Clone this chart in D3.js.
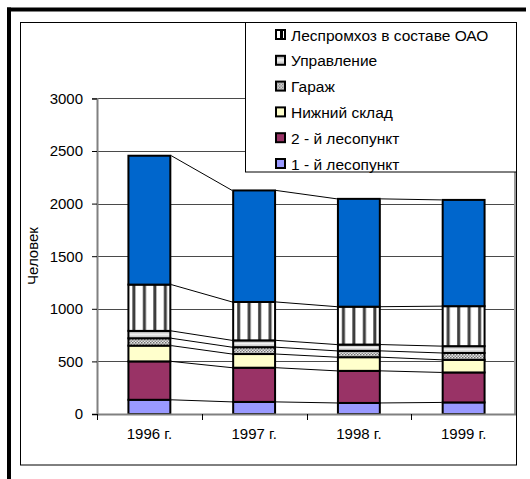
<!DOCTYPE html>
<html>
<head>
<meta charset="utf-8">
<script src="https://cdn.jsdelivr.net/npm/d3@7"></script>
<style>
  body { margin: 0; background: #fff; }
  svg { display: block; font-family: "Liberation Sans", Arial, sans-serif; }
</style>
</head>
<body>
<svg id="chart" width="530" height="479"></svg>
<script>
// years on the x axis
const years = ["1996 г.", "1997 г.", "1998 г.", "1999 г."];

// series, bottom to top of each column
const lesopunkt1 = [135, 115, 105, 110];
const lesopunkt2 = [365, 325, 305, 285];
const nizhniySklad = [150, 130, 130, 120];
const garazh = [70, 65, 60, 65];
const upravlenie = [70, 65, 60, 65];
const lespromkhoz = [440, 365, 360, 380];
// top series, its legend row is clipped off the top of the legend box
const topSeries = [1225, 1060, 1025, 1010];

const yTicks = [0, 500, 1000, 1500, 2000, 2500, 3000];

const seriesKeys = ["l1", "l2", "ns", "gar", "upr", "lpk", "top"];
const seriesNames = {
  l1: "1 - й лесопункт",
  l2: "2 - й лесопункт",
  ns: "Нижний склад",
  gar: "Гараж",
  upr: "Управление",
  lpk: "Леспромхоз в составе ОАО"
};

let rows = years.map((year, i) => ({
  year: year,
  l1: lesopunkt1[i],
  l2: lesopunkt2[i],
  ns: nizhniySklad[i],
  gar: garazh[i],
  upr: upravlenie[i],
  lpk: lespromkhoz[i],
  top: topSeries[i]
}));

const svg = d3.select("#chart");

// ---- fills / patterns
const defs = svg.append("defs");

let dots = defs.append("pattern").attr("id", "pat-dots")
  .attr("patternUnits", "userSpaceOnUse").attr("width", 3).attr("height", 3);
dots.append("rect").attr("width", 3).attr("height", 3).attr("fill", "#e6e6e6");
dots.append("rect").attr("width", 1.5).attr("height", 1.5).attr("fill", "#6e6e6e");
dots.append("rect").attr("x", 1.5).attr("y", 1.5).attr("width", 1.5).attr("height", 1.5).attr("fill", "#8a8a8a");

let grad = defs.append("linearGradient").attr("id", "grad-upr")
  .attr("x1", 0).attr("y1", 0).attr("x2", 0).attr("y2", 1);
grad.append("stop").attr("offset", "0%").attr("stop-color", "#8c8c8c");
grad.append("stop").attr("offset", "45%").attr("stop-color", "#f4f4f4");
grad.append("stop").attr("offset", "100%").attr("stop-color", "#b4b4b4");

// vertical stripes, four per column
let stripes = defs.append("pattern").attr("id", "pat-stripes")
  .attr("patternUnits", "objectBoundingBox").attr("width", 0.25).attr("height", 1);
stripes.append("rect").attr("width", 20).attr("height", 2000).attr("fill", "#fff");
stripes.append("rect").attr("x", 4).attr("width", 3).attr("height", 2000).attr("fill", "#3c3c3c");

let stripesIcon = defs.append("pattern").attr("id", "pat-stripes-icon")
  .attr("patternUnits", "userSpaceOnUse").attr("width", 10).attr("height", 10);
stripesIcon.append("rect").attr("width", 10).attr("height", 10).attr("fill", "#fff");
stripesIcon.append("rect").attr("x", 4).attr("width", 3).attr("height", 10).attr("fill", "#000");

const fills = {
  l1: "#9999ff",
  l2: "#993366",
  ns: "#ffffcc",
  gar: "url(#pat-dots)",
  upr: "url(#grad-upr)",
  lpk: "url(#pat-stripes)",
  top: "#0066cc"
};

// ---- outer frame
svg.append("rect").attr("x", 20.5).attr("y", 22.5).attr("width", 496).attr("height", 442.5)
  .attr("fill", "#fff").attr("stroke", "#000").attr("stroke-width", 1);
svg.append("line").attr("x1", 7).attr("x2", 526).attr("y1", 9.5).attr("y2", 9.5)
  .attr("stroke", "#000").attr("stroke-width", 4);
svg.append("line").attr("x1", 9).attr("x2", 9).attr("y1", 7.5).attr("y2", 479)
  .attr("stroke", "#000").attr("stroke-width", 4);

// ---- scales
const plot = { left: 97, right: 516, top: 98.4, bottom: 414 };

let x = d3.scaleBand().domain(years)
  .range([plot.left, plot.right])
  .paddingInner(0.6).paddingOuter(0.3);

let y = d3.scaleLinear().domain([0, 3000]).range([plot.bottom, plot.top]);

// gridlines
svg.append("g")
  .selectAll("line").data(yTicks.filter(t => t > 0)).enter().append("line")
  .attr("x1", plot.left).attr("x2", plot.right)
  .attr("y1", d => Math.round(y(d)) + 0.5).attr("y2", d => Math.round(y(d)) + 0.5)
  .attr("stroke", "#4a4a4a").attr("stroke-width", 1);

// plot right border
svg.append("line").attr("x1", plot.right - 1).attr("x2", plot.right - 1)
  .attr("y1", plot.top).attr("y2", plot.bottom)
  .attr("stroke", "#9a9a9a").attr("stroke-width", 2);

// ---- stacked columns
let stacked = d3.stack().keys(seriesKeys)(rows);

let layers = svg.append("g").selectAll("g.layer").data(stacked).enter()
  .append("g").attr("class", "layer")
  .attr("fill", d => fills[d.key]);

layers.selectAll("rect").data(d => d).enter().append("rect")
  .attr("x", d => x(d.data.year))
  .attr("y", d => y(d[1]))
  .attr("width", x.bandwidth())
  .attr("height", d => y(d[0]) - y(d[1]))
  .attr("stroke", "#000")
  .attr("stroke-width", 2);

// series lines between neighbouring columns
stacked.forEach((layer) => {
  for (let i = 0; i < layer.length - 1; i++) {
    svg.append("line")
      .attr("x1", x(years[i]) + x.bandwidth() + 1)
      .attr("x2", x(years[i + 1]) - 1)
      .attr("y1", y(layer[i][1]))
      .attr("y2", y(layer[i + 1][1]))
      .attr("stroke", "#000").attr("stroke-width", 1);
  }
});

// ---- axes
let yAxis = d3.axisLeft(y).tickValues(yTicks).tickFormat(d3.format("d"))
  .tickSize(5).tickPadding(9);
let gy = svg.append("g").attr("transform", `translate(${plot.left},0)`).call(yAxis);
gy.select(".domain").attr("stroke", "#808080").attr("stroke-width", 2);
gy.selectAll(".tick line").attr("stroke", "#000");
gy.selectAll("text").attr("font-size", 15).attr("fill", "#000")
  .attr("font-family", "Liberation Sans, Arial, sans-serif");

let xAxis = d3.axisBottom(x).tickSize(0).tickPadding(14);
let gx = svg.append("g").attr("transform", `translate(0,${plot.bottom})`).call(xAxis);
gx.select(".domain").remove();
gx.selectAll("text").attr("font-size", 15).attr("fill", "#000")
  .attr("font-family", "Liberation Sans, Arial, sans-serif");

svg.append("line").attr("x1", plot.left).attr("x2", plot.right)
  .attr("y1", plot.bottom + 0.5).attr("y2", plot.bottom + 0.5)
  .attr("stroke", "#808080").attr("stroke-width", 2);

// tick marks between categories
let step = x.step();
let boundaries = d3.range(years.length + 1).map(i => plot.left + i * step);
svg.append("g").selectAll("line").data(boundaries).enter().append("line")
  .attr("x1", d => Math.round(d) + 0.5).attr("x2", d => Math.round(d) + 0.5)
  .attr("y1", plot.bottom).attr("y2", plot.bottom + 6)
  .attr("stroke", "#000");

svg.append("text")
  .attr("transform", `translate(38,256) rotate(-90)`)
  .attr("text-anchor", "middle")
  .attr("font-size", 15)
  .text("Человек");

// ---- legend
const legendKeys = ["lpk", "upr", "gar", "ns", "l2", "l1"];
const legendIconFill = Object.assign({}, fills, { lpk: "url(#pat-stripes-icon)" });

let legend = svg.append("g");
legend.append("rect").attr("x", 245.5).attr("y", 22.5).attr("width", 271).attr("height", 149.5)
  .attr("fill", "#fff").attr("stroke", "#000");

let items = legend.selectAll("g.item").data(legendKeys).enter().append("g")
  .attr("class", "item")
  .attr("transform", (d, i) => `translate(276,${35 + i * 25.8})`);

items.append("rect")
  .attr("x", 0).attr("y", -5).attr("width", 9).attr("height", 9)
  .attr("fill", d => legendIconFill[d])
  .attr("stroke", "#000").attr("stroke-width", 2);

items.append("text")
  .attr("x", 15).attr("y", 5.5)
  .attr("font-size", 15.5)
  .text(d => seriesNames[d]);
</script>
</body>
</html>
